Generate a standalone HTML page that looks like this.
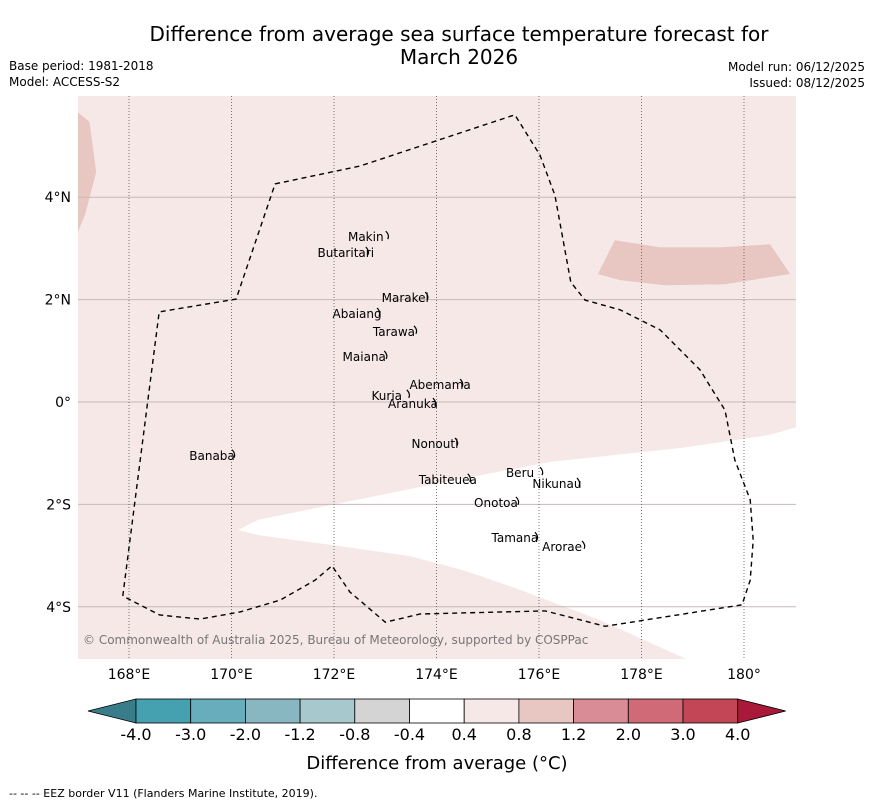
<!DOCTYPE html>
<html><head><meta charset="utf-8"><style>
body{margin:0;background:#fff;font-family:"DejaVu Sans","Liberation Sans",sans-serif}
svg{display:block}
</style></head><body>
<svg width="873" height="804" viewBox="0 0 873 804" font-family="DejaVu Sans, Liberation Sans, sans-serif">
<text x="459" y="41" text-anchor="middle" font-size="20">Difference from average sea surface temperature forecast for</text>
<text x="459" y="64" text-anchor="middle" font-size="20">March 2026</text>
<text x="9" y="70" font-size="12">Base period: 1981-2018</text>
<text x="9" y="86" font-size="12">Model: ACCESS-S2</text>
<text x="865" y="71" font-size="12" text-anchor="end">Model run: 06/12/2025</text>
<text x="865" y="87" font-size="12" text-anchor="end">Issued: 08/12/2025</text>
<g id="map"></g>
<g id="cbar"></g>
<text x="437" y="769" text-anchor="middle" font-size="18">Difference from average (°C)</text>
<text x="9" y="797" font-size="11">-- -- -- EEZ border V11 (Flanders Marine Institute, 2019).</text>
</svg>
<script>
const NS="http://www.w3.org/2000/svg";
const lonTicks=[168,170,172,174,176,178,180];
const lonLabels=["168°E","170°E","172°E","174°E","176°E","178°E","180°"];
const latTicks=[4,2,0,-2,-4];
const latLabels=["4°N","2°N","0°","2°S","4°S"];
const eezLon=[167.88,168.59,170.09,170.85,172.51,175.53,176.02,176.31,176.62,176.90,177.58,178.36,179.14,179.63,179.82,180.12,180.18,180.12,179.96,177.29,176.12,173.68,173.00,172.31,171.96,171.63,170.95,170.17,169.39,168.60,167.88];
const eezLat=[-3.79,1.76,2.01,4.26,4.61,5.61,4.82,4.04,2.34,1.99,1.80,1.41,0.63,-0.16,-1.13,-1.91,-2.70,-3.48,-3.96,-4.38,-4.08,-4.14,-4.30,-3.71,-3.20,-3.48,-3.87,-4.10,-4.24,-4.16,-3.79];
const whiteLon=[170.13,170.52,173.68,176.21,178.75,180.51,181.02,181.02,178.87,177.19,175.53,174.50,173.48,171.92,170.52];
const whiteLat=[-2.50,-2.30,-1.66,-1.17,-0.90,-0.64,-0.49,-5.02,-5.02,-4.26,-3.63,-3.28,-3.01,-2.79,-2.60];
const rPatchLon=[177.48,178.36,179.53,180.51,180.90,179.63,178.46,177.58,177.15];
const rPatchLat=[3.16,3.02,3.02,3.08,2.50,2.30,2.28,2.38,2.50];
const lPatchLon=[167.0,167.23,167.36,167.14,167.0];
const lPatchLat=[5.66,5.47,4.49,3.65,3.32];
const islandNames=["Makin","Butaritari","Marakei","Abaiang","Tarawa","Maiana","Abemama","Kuria","Aranuka","Nonouti","Banaba","Beru","Nikunau","Tabiteuea","Onotoa","Tamana","Arorae"];
const islandLon=[172.62,172.23,173.39,172.45,173.17,172.59,174.07,173.03,173.54,173.97,169.62,175.63,176.35,174.22,175.16,175.53,176.45];
const islandLat=[3.22,2.91,2.03,1.72,1.37,0.88,0.33,0.12,-0.04,-0.82,-1.05,-1.39,-1.60,-1.52,-1.97,-2.66,-2.83];
const cbBounds=["-4.0","-3.0","-2.0","-1.2","-0.8","-0.4","0.4","0.8","1.2","2.0","3.0","4.0"];
const cbColors=["#45a0b0","#68adbb","#88b7c1","#a7c8cc","#d4d4d4","#ffffff","#f5e8e7","#e8c6c2","#d98c95","#cf6a76","#c24655"];
const X0=78,X1=796,Y0=96,Y1=659;
const xs=lon=>129+(lon-168)*51.25;
const ys=lat=>402-lat*51.2;
const map=document.getElementById('map');
function el(t,a,p){const e=document.createElementNS(NS,t);for(const k in a)e.setAttribute(k,a[k]);(p||map).appendChild(e);return e;}
function pts(lo,la){return lo.map((v,i)=>xs(v).toFixed(1)+","+ys(la[i]).toFixed(1)).join(" ");}
const defs=el('defs',{});const cp=el('clipPath',{id:'clip'},defs);el('rect',{x:X0,y:Y0,width:X1-X0,height:Y1-Y0},cp);
const g=el('g',{'clip-path':'url(#clip)'});
let bg=el('rect',{x:X0,y:Y0,width:X1-X0,height:Y1-Y0,fill:'#f5e8e7'},g);


let w=el('polygon',{points:pts(whiteLon,whiteLat),fill:'#ffffff'},g);


let rp=el('polygon',{points:pts(rPatchLon,rPatchLat),fill:'#e8c6c2'},g);


let lp=el('polygon',{points:pts(lPatchLon,lPatchLat),fill:'#e8c6c2'},g);


latTicks.forEach((v,i)=>{
 let l=el('line',{x1:X0,x2:X1,y1:ys(v),y2:ys(v),stroke:'#c8b8b8','stroke-width':1},g);
 
 
 let t=el('text',{x:X0-7,y:ys(v)+5,'text-anchor':'end','font-size':14});t.textContent=latLabels[i];
 
 
});
lonTicks.forEach((v,i)=>{
 let l=el('line',{x1:xs(v),x2:xs(v),y1:Y0,y2:Y1,stroke:'#555','stroke-width':0.8,'stroke-dasharray':'1,2'},g);
 
 
 let t=el('text',{x:xs(v),y:Y1+20,'text-anchor':'middle','font-size':14});t.textContent=lonLabels[i];
 
 
});
let eez=el('polyline',{points:pts(eezLon,eezLat),fill:'none',stroke:'#000','stroke-width':1.4,'stroke-dasharray':'5,4'},g);


islandNames.forEach((n,i)=>{
 const x=xs(islandLon[i]),y=ys(islandLat[i]);
 let m=el('path',{d:`M${x+20} ${y-6} q4 4 2 8`,fill:'none',stroke:'#000','stroke-width':1.2},g);
 
 
 let t=el('text',{x:x,y:y+4,'text-anchor':'middle','font-size':12},g);t.textContent=n;
 
 
});
let cr=el('text',{x:83,y:644,'font-size':12,fill:'#777'},g);cr.textContent="© Commonwealth of Australia 2025, Bureau of Meteorology, supported by COSPPac";


const cb=document.getElementById('cbar');
const cx0=136,cw=54.7,cy=699,ch=24;
let lt=el('polygon',{points:`88,${cy+ch/2} ${cx0},${cy} ${cx0},${cy+ch}`,fill:'#3a7d8a',stroke:'#000','stroke-width':0.8},cb);


cbColors.forEach((c,i)=>{
 let r=el('rect',{x:cx0+i*cw,y:cy,width:cw,height:ch,fill:c,stroke:'#000','stroke-width':0.8},cb);
 
 
});
const cx1=cx0+cbColors.length*cw;
let rt=el('polygon',{points:`${cx1},${cy} ${cx1+48},${cy+ch/2} ${cx1},${cy+ch}`,fill:'#a8193a',stroke:'#000','stroke-width':0.8},cb);


cbBounds.forEach((b,i)=>{
 let t=el('text',{x:cx0+i*cw,y:740,'text-anchor':'middle','font-size':16},cb);t.textContent=b;
 
 
});
</script>
</body></html>
